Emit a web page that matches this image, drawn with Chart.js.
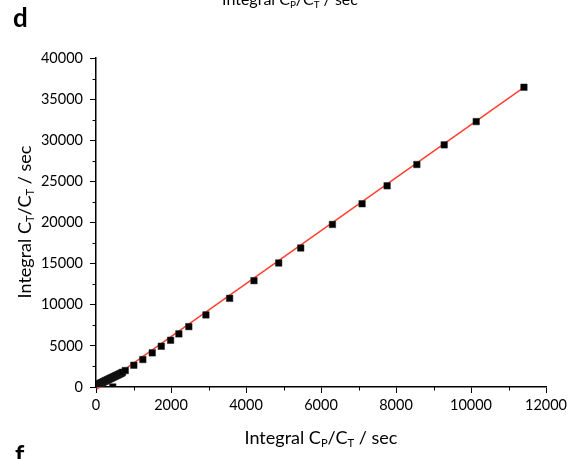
<!DOCTYPE html>
<html>
<head>
<meta charset="utf-8">
<script src="https://cdn.jsdelivr.net/npm/chart.js@4"></script>
<style>
  html, body { margin: 0; padding: 0; background: #fff; }
  #wrap { position: relative; width: 579px; height: 459px; overflow: hidden; font-family: "Lato", sans-serif; color: #000; }
  .lbl { position: absolute; white-space: nowrap; line-height: 1; }
  .lbl sub { font-size: 0.62em; vertical-align: -0.28em; line-height: 0; }
  .panel { font-weight: bold; font-size: 26px; }
  #xTitle { left: 0; width: 642px; text-align: center; top: 428px; font-size: 18px; }
  #topTitle { left: 0; width: 580px; text-align: center; top: -9px; font-size: 16px; }
  #yTitle { width: 240px; left: -96px; top: 213px; font-size: 18px; text-align: center; transform: rotate(-90deg); transform-origin: 50% 50%; height: 18px; }
</style>
</head>
<body>
<div id="wrap">
  <canvas id="chart"></canvas>
  <div class="lbl" id="topTitle">Integral C<sub>P</sub>/C<sub>T</sub> / sec</div>
  <div class="lbl panel" style="left:13px; top:4px;">d</div>
  <div class="lbl panel" style="left:15px; top:441px;">f</div>
  <div class="lbl" id="xTitle">Integral C<sub>P</sub>/C<sub>T</sub> / sec</div>
  <div class="lbl" id="yTitle">Integral C<sub>T</sub>/C<sub>T</sub> / sec</div>
</div>
<script>
const xValues = [2, 12, 25, 38, 50, 65, 80, 95, 110, 125, 140, 158, 175, 192, 210, 228, 246, 265, 284, 303, 322, 342,
  362, 382, 403, 424, 446, 468, 490, 513, 536, 560, 584, 608, 633, 658, 684, 707,
  448, 780, 1009, 1249, 1500, 1741, 1989, 2210, 2475, 2931, 3564, 4213, 4872, 5459, 6305, 7096, 7763, 8556, 9285, 10139, 11412];
const yValues = [150, 200, 230, 270, 300, 330, 360, 400, 430, 470, 500, 540, 580, 620, 660, 700, 740, 780, 820, 860, 910, 950,
  1000, 1040, 1090, 1130, 1180, 1230, 1280, 1330, 1380, 1430, 1480, 1530, 1590, 1640, 1700, 1790,
  0, 2003, 2647, 3339, 4152, 4953, 5682, 6459, 7340, 8765, 10781, 12929, 15078, 16899, 19764, 22277, 24463, 27049, 29440, 32269, 36445];

// linear fit drawn in red
const fitX = [20, 11420];
const fitY = [-250, 36460];

const xTicks = { min: 0, max: 12000, step: 2000 };
const yTicks = { min: 0, max: 40000, step: 5000 };

const points = xValues.map((x, i) => ({ x: x, y: yValues[i] }));
const fitLine = fitX.map((x, i) => ({ x: x, y: fitY[i] }));

const minorTicks = {
  id: "minorTicks",
  afterDraw(chart) {
    const ctx = chart.ctx;
    const xs = chart.scales.x;
    const ys = chart.scales.y;
    ctx.save();
    ctx.strokeStyle = "#000";
    ctx.lineWidth = 1;
    for (let v = xTicks.step / 2; v < xTicks.max; v += xTicks.step) {
      const px = Math.round(xs.getPixelForValue(v)) + 0.5;
      ctx.beginPath();
      ctx.moveTo(px, xs.top);
      ctx.lineTo(px, xs.top + 3.5);
      ctx.stroke();
    }
    for (let v = yTicks.step / 2; v < yTicks.max; v += yTicks.step) {
      const py = Math.round(ys.getPixelForValue(v)) + 0.5;
      ctx.beginPath();
      ctx.moveTo(ys.right, py);
      ctx.lineTo(ys.right - 3.5, py);
      ctx.stroke();
    }
    ctx.restore();
  }
};

const tickFont = { family: "Lato", size: 14.5 };

new Chart(document.getElementById("chart"), {
  type: "scatter",
  data: {
    datasets: [
      {
        label: "data",
        data: points,
        pointStyle: "rect",
        pointRadius: 4.6,
        pointBorderWidth: 0.5,
        backgroundColor: "#000",
        borderColor: "#222",
        order: 0
      },
      {
        type: "line",
        label: "fit",
        data: fitLine,
        borderColor: "#ff4030",
        borderWidth: 1.5,
        pointRadius: 0,
        fill: false,
        clip: false,
        order: 1
      }
    ]
  },
  plugins: [minorTicks],
  options: {
    responsive: true,
    maintainAspectRatio: false,
    animation: false,
    layout: { padding: { left: 0, right: 33, top: 58, bottom: 0 } },
    plugins: {
      legend: { display: false },
      tooltip: { enabled: false }
    },
    scales: {
      x: {
        type: "linear",
        min: xTicks.min,
        max: xTicks.max,
        afterFit: s => { s.height = 72; },
        border: { display: true, color: "#000", width: 1.5 },
        grid: { drawOnChartArea: false, drawTicks: true, tickLength: 6, color: "#000", tickWidth: 1 },
        ticks: { stepSize: xTicks.step, color: "#000", font: tickFont, padding: 4, maxRotation: 0, callback: v => String(v) }
      },
      y: {
        type: "linear",
        min: yTicks.min,
        max: yTicks.max,
        afterFit: s => { s.width = 96; },
        border: { display: true, color: "#000", width: 1.5 },
        grid: { drawOnChartArea: false, drawTicks: true, tickLength: 6, color: "#000", tickWidth: 1 },
        ticks: { stepSize: yTicks.step, color: "#000", font: tickFont, padding: 7, callback: v => String(v) }
      }
    }
  }
});
</script>
</body>
</html>
